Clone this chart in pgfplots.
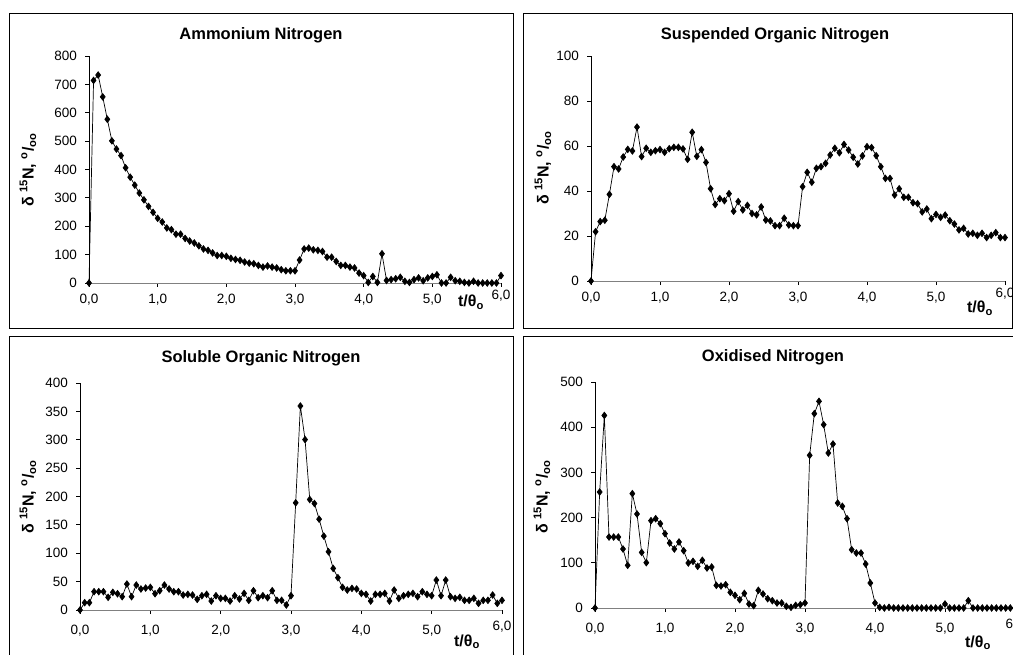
\documentclass[border=0pt]{standalone}
\usepackage{fontspec}
\setmainfont{Liberation Sans}
\usepackage{pgfplots}
\pgfplotsset{compat=1.18}
\usepackage{pgfplotstable}

\pgfplotstableread{
x      A    S     L     O
0      0    0     0     0
0.0667 714  21.9  12.9  256.6
0.1333 733  26.4  12.9  426
0.2    656  27    32.3  157
0.2667 577  38.5  32.3  157
0.3333 501  50.8  32.3  157
0.4    472  49.8  22.3  130.5
0.4667 449  55.1  31.1  94.4
0.5333 406  58.5  28.7  253
0.6    373  57.8  23.5  208
0.6667 345  68.4  45.7  123
0.7333 317  55.3  23.5  100.3
0.8    293  59    44    193.2
0.8667 270  57.2  37    197.6
0.9333 249  57.9  38.7  186.6
1      228  58.4  39.9  164.5
1.0667 215  57.2  28.7  143.8
1.1333 194  58.8  34    130.5
1.2    188  59.4  44    146
1.2667 172  59.4  37    126.8
1.3333 172  58.7  32.3  99.6
1.4    157  54.1  32.3  103.2
1.4667 148  66.1  26.4  92.2
1.5333 141  55.4  27.6  105.5
1.6    131  58.4  26.4  88.5
1.6667 120  52.7  18.8  90.7
1.7333 115  41    25.2  50.1
1.8    106  34    27.6  48.7
1.8667 97   36.6  15.8  51.6
1.9333 97   35.7  25.2  34.7
2      94   38.8  20.5  28
2.0667 87   31    20.5  18.4
2.1333 83   35.3  15.8  32.4
2.2    80   31.6  25.2  8.8
2.2667 74   33.6  19.4  5.2
2.3333 70   30    29.3  39.1
2.4    68   29.4  17    31
2.4667 62   32.9  34    20.6
2.5333 56   27.1  21.7  16.2
2.6    60   26.7  25.2  11.1
2.6667 56   24.6  21.7  11.1
2.7333 53   24.6  34    3.7
2.8    47   27.9  17    1.5
2.8667 43   24.9  17    5.9
2.9333 43   24.6  8.8   7.4
3      43   24.6  25.2  11.1
3.0667 81   41.9  188.9 337.8
3.1333 120  48.3  359.5 430
3.2    123  43.9  300.3 457.2
3.2667 117  50.1  194.7 405.6
3.3333 115  50.8  187.7 342.9
3.4    111  52.3  160.1 362.8
3.4667 91   56    130.2 232.3
3.5333 91   59    102.6 225
3.6    76   57    73.3  197.6
3.6667 62   60.7  56.9  129
3.7333 62   58.2  39.9  121.7
3.8    56   55    35.2  121.7
3.8667 53   52    38.1  97.3
3.9333 35   55.6  37    55.3
4      26   59.7  29.3  11.1
4.0667 2    59.3  27.6  1.5
4.1333 23   55.7  15.8  0
4.2    2    50.8  27.6  1.5
4.2667 103  45.6  27.6  0
4.3333 9    45.6  29.3  0
4.4    12   38.2  15.8  0
4.4667 15   41    35.2  0
4.5333 20   37.2  20.5  0
4.6    6    37.2  25.2  0
4.6667 2    34.8  27.6  0
4.7333 12   34.4  29.3  0
4.8    18   30.7  23.5  0
4.8667 8    32    32.3  0
4.9333 18   27.7  27.6  0
5      23   29.6  25.2  8.8
5.0667 29   28.3  52.8  0
5.1333 0    29.3  25.2  0
5.2    0    26.8  52.8  0
5.2667 20   25.3  23.5  0
5.3333 8    22.7  20.5  16.2
5.4    6    23.4  22.3  0
5.4667 2    20.9  17    0
5.5333 0    21.2  17    0
5.6    6    20.3  20.5  0
5.6667 0    21.2  11.7  0
5.7333 0    19.3  17    0
5.8    0    20.3  17    0
5.8667 0    21.5  26.4  0
5.9333 0    19.3  11.7  0
6      26   19.3  17    0
}\data

\newcommand{\ticksize}{\fontsize{13.5}{15}\selectfont}
\newcommand{\titlesize}{\fontsize{16.5}{19}\selectfont\bfseries}
\newcommand{\labsize}{\fontsize{16}{19}\selectfont\bfseries}

\pgfplotsset{
  panel/.style={
    scale only axis, anchor=south west, clip=false,
    xmin=0, xmax=6, ymin=0, enlargelimits=false,
    axis lines*=left,
    x axis line style={gray, line width=0.8pt},
    y axis line style={black, line width=0.8pt},
    tick align=outside, major tick length=4pt,
    tick style={black, line width=0.8pt},
    xtick={0,1,2,3,4,5},
    xticklabels={0{,}0,1{,}0,2{,}0,3{,}0,4{,}0,5{,}0},
    extra x ticks={6}, extra x tick labels={6{,}0},
    extra x tick style={xticklabel style={yshift=4pt}},
    xticklabel style={font=\ticksize, inner sep=0pt, anchor=north},
    yticklabel style={font=\ticksize, inner sep=0pt, anchor=east},
    xticklabel shift=7pt, yticklabel shift=8pt,
    /pgf/number format/assume math mode=true,
  },
  series/.style={black, line width=0.7pt, mark=diamond*, mark size=3.3pt,
    mark options={solid, fill=black, draw=black}},
}

\begin{document}
\begin{tikzpicture}
\useasboundingbox (0,0) rectangle (1013pt,-655pt);
\clip (0,0) rectangle (1013pt,-655pt);
% panel frames
\draw[line width=0.9pt] (9pt,-13pt) rectangle (513pt,-328pt);
\draw[line width=0.9pt] (523pt,-13pt) rectangle (1012pt,-328pt);
\draw[line width=0.9pt] (9pt,-336pt) rectangle (513pt,-670pt);
\draw[line width=0.9pt] (523pt,-336pt) rectangle (1030pt,-670pt);

% Ammonium
\begin{axis}[panel, at={(89pt,-283pt)}, width=412pt, height=227pt,
  ymax=800, ytick={0,100,...,800}]
\addplot[series] table[x=x, y=A] {\data};
\end{axis}
% Suspended
\begin{axis}[panel, at={(591pt,-281pt)}, width=414pt, height=225pt,
  ymax=100, ytick={0,20,...,100}]
\addplot[series] table[x=x, y=S] {\data};
\end{axis}
% Soluble
\begin{axis}[panel, at={(80pt,-610pt)}, width=422pt, height=227pt,
  ymax=400, ytick={0,50,...,400}, xticklabel shift=11pt]
\addplot[series] table[x=x, y=L] {\data};
\end{axis}
% Oxidised
\begin{axis}[panel, at={(595pt,-608pt)}, width=420pt, height=226pt,
  ymax=500, ytick={0,100,...,500}, xticklabel shift=11pt]
\addplot[series] table[x=x, y=O] {\data};
\end{axis}

% titles
\node[font=\titlesize] at (261pt,-35pt) {Ammonium Nitrogen};
\node[font=\titlesize] at (775pt,-35pt) {Suspended Organic Nitrogen};
\node[font=\titlesize] at (261pt,-358pt) {Soluble Organic Nitrogen};
\node[font=\titlesize] at (773pt,-357pt) {Oxidised Nitrogen};
% y labels
\node[font=\labsize, rotate=90] at (28pt,-170pt) {δ \textsuperscript{15}N, \textsuperscript{o}/\textsubscript{oo}};
\node[font=\labsize, rotate=90] at (543pt,-168pt) {δ \textsuperscript{15}N, \textsuperscript{o}/\textsubscript{oo}};
\node[font=\labsize, rotate=90] at (28pt,-497pt) {δ \textsuperscript{15}N, \textsuperscript{o}/\textsubscript{oo}};
\node[font=\labsize, rotate=90] at (542pt,-497pt) {δ \textsuperscript{15}N, \textsuperscript{o}/\textsubscript{oo}};
% x labels
\node[font=\labsize, anchor=base] at (471pt,-307pt) {t/θ\textsubscript{o}};
\node[font=\labsize, anchor=base] at (980pt,-313pt) {t/θ\textsubscript{o}};
\node[font=\labsize, anchor=base] at (467pt,-646pt) {t/θ\textsubscript{o}};
\node[font=\labsize, anchor=base] at (978pt,-647pt) {t/θ\textsubscript{o}};
\end{tikzpicture}
\end{document}
